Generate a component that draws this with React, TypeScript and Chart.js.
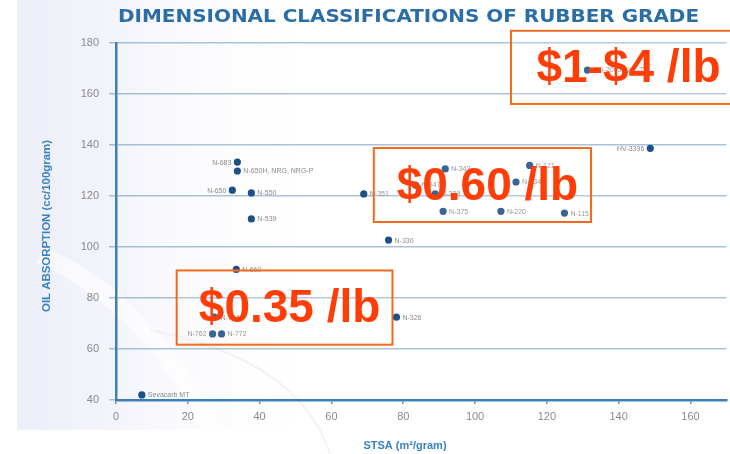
import React, { useEffect, useRef } from "react";
import { Chart, registerables } from "chart.js";

Chart.register(...registerables);

// ---- data ----
const gradeNames = [
  "Sevacarb MT", "N-683", "N-650H, NRG, NRG-P", "N-650", "N-550", "N-539", "N-660",
  "N-774", "N-762", "N-772", "N-351", "N-330", "N-326", "N-347", "N-339", "N-343",
  "N-375", "N-220", "N-234", "N-121", "N-115", "HV-3396", "CD-2005 / XC-72",
];
const stsaValues = [
  7.2, 33.8, 33.8, 32.4, 37.7, 37.7, 33.5,
  27.4, 26.9, 29.4, 69.0, 75.9, 78.1, 83.4, 88.9, 91.7,
  91.1, 107.2, 111.4, 115.2, 124.9, 148.8, 131.3,
];
const oanValues = [
  42, 133.3, 129.8, 122.3, 121.2, 111, 91.2,
  72.5, 65.9, 65.9, 120.8, 102.7, 72.5, 124.3, 120.8, 130.6,
  114, 114, 125.5, 132, 113.3, 138.7, 169.4,
];
const labelSides = [
  "right", "left", "right", "left", "right", "right", "right",
  "right", "left", "right", "right", "right", "right", "right", "right", "right",
  "right", "right", "right", "right", "right", "left", "right",
];
const xTickValues = [0, 20, 40, 60, 80, 100, 120, 140, 160];
const yTickValues = [40, 60, 80, 100, 120, 140, 160, 180];

// price regions (data units: STSA from/to, OAN top/bottom)
const priceLabels = ["$1-$4 /lb", "$0.60 /lb", "$0.35 /lb"];
const priceStsaFrom = [110, 71.8, 16.9];
const priceStsaTo = [172, 132.3, 77];
const priceOanTop = [184.8, 138.8, 90.8];
const priceOanBottom = [156.1, 109.8, 61.7];

const titleText = "DIMENSIONAL CLASSIFICATIONS OF RUBBER GRADE";
const xTitle = "STSA (m²/gram)";
const yTitle = "OIL ABSORPTION (cc/100gram)";

const BLUE = "#2b6ea6";

const decorPlugin = {
  id: "decor",
  beforeDraw(chart: any) {
    const { ctx, width, height } = chart;
    ctx.save();
    ctx.fillStyle = "#ffffff";
    ctx.fillRect(0, 0, width, height);
    const g = ctx.createLinearGradient(17, 0, 330, 0);
    g.addColorStop(0, "rgba(236,238,248,1)");
    g.addColorStop(0.35, "rgba(243,244,251,0.85)");
    g.addColorStop(1, "rgba(255,255,255,0)");
    ctx.fillStyle = g;
    ctx.fillRect(17, 0, 313, 430);
    // faint swoosh
    ctx.strokeStyle = "rgba(255,255,255,0.6)";
    ctx.lineWidth = 18;
    ctx.beginPath();
    ctx.moveTo(40, 255);
    ctx.quadraticCurveTo(150, 300, 225, 454);
    ctx.stroke();
    ctx.strokeStyle = "rgba(228,228,238,0.45)";
    ctx.lineWidth = 2;
    ctx.beginPath();
    ctx.moveTo(150, 330);
    ctx.quadraticCurveTo(300, 360, 330, 454);
    ctx.stroke();
    ctx.restore();
  },
  afterDatasetsDraw(chart: any) {
    const { ctx } = chart;
    const meta = chart.getDatasetMeta(0);
    ctx.save();
    ctx.font = "7px 'Liberation Sans', Arial, sans-serif";
    ctx.fillStyle = "#8a8a8a";
    ctx.textBaseline = "middle";
    meta.data.forEach((pt: any, i: number) => {
      const side = labelSides[i];
      ctx.textAlign = side === "left" ? "right" : "left";
      const dx = side === "left" ? -6 : 6;
      ctx.fillText(gradeNames[i], pt.x + dx, pt.y + 0.5);
    });
    ctx.restore();
  },
  afterDraw(chart: any) {
    const { ctx, scales } = chart;
    const xs = scales.x;
    const ys = scales.y;
    ctx.save();
    // price boxes
    priceLabels.forEach((lab, i) => {
      const x0 = xs.getPixelForValue(priceStsaFrom[i]);
      const x1 = xs.getPixelForValue(priceStsaTo[i]);
      const y0 = ys.getPixelForValue(priceOanTop[i]);
      const y1 = ys.getPixelForValue(priceOanBottom[i]);
      ctx.fillStyle = "rgba(255,255,255,0.12)";
      ctx.fillRect(x0, y0, x1 - x0, y1 - y0);
      ctx.strokeStyle = "#f26a1e";
      ctx.lineWidth = 2;
      ctx.strokeRect(x0, y0, x1 - x0, y1 - y0);
      ctx.fillStyle = "#ff3d06";
      ctx.font = "bold 46px 'Liberation Sans', Arial, sans-serif";
      ctx.textAlign = "center";
      ctx.textBaseline = "middle";
      const cx = i === 0 ? (x0 + 730) / 2 + 8 : (x0 + x1) / 2 + 5;
      ctx.fillText(lab, cx, (y0 + y1) / 2 + 2);
    });
    // title
    ctx.fillStyle = BLUE;
    ctx.font = "bold 18px 'DejaVu Sans', sans-serif";
    ctx.textAlign = "left";
    ctx.textBaseline = "middle";
    const tw = ctx.measureText(titleText).width;
    ctx.save();
    ctx.translate(118, 17);
    ctx.scale(581 / tw, 1);
    ctx.fillText(titleText, 0, 0);
    ctx.restore();
    // x title
    ctx.fillStyle = "#3a82c0";
    ctx.font = "bold 11px 'Liberation Sans', Arial, sans-serif";
    ctx.textAlign = "center";
    ctx.fillText(xTitle, 405, 446);
    // y title
    ctx.save();
    ctx.translate(47, 226);
    ctx.rotate(-Math.PI / 2);
    ctx.font = "bold 11px 'Liberation Sans Narrow', 'Liberation Sans', Arial, sans-serif";
    const yw = ctx.measureText(yTitle).width;
    ctx.scale(172 / yw, 1);
    ctx.fillText(yTitle, 0, 0);
    ctx.restore();
    ctx.restore();
  },
};

export default function App() {
  const canvasRef = useRef<HTMLCanvasElement | null>(null);

  useEffect(() => {
    if (!canvasRef.current) return;
    const points = stsaValues.map((x, i) => ({ x, y: oanValues[i] }));
    const chart = new Chart(canvasRef.current, {
      type: "scatter",
      data: {
        datasets: [
          {
            data: points,
            backgroundColor: "#1d4f88",
            borderColor: "#1d4f88",
            pointRadius: 3.6,
            pointHoverRadius: 3.6,
            borderWidth: 0,
          },
        ],
      },
      options: {
        animation: false,
        responsive: false,
        maintainAspectRatio: false,
        layout: { padding: { top: 43, right: 0, bottom: 0, left: 0 } },
        plugins: {
          legend: { display: false },
          title: { display: false },
          tooltip: { enabled: false },
        },
        scales: {
          x: {
            type: "linear",
            min: 0,
            max: 170,
            afterFit: (s: any) => {
              s.height = 54;
            },
            afterBuildTicks: (s: any) => {
              s.ticks = xTickValues.map((v) => ({ value: v }));
            },
            ticks: {
              color: "#8a8a8a",
              font: { size: 11, family: "'Liberation Sans', Arial, sans-serif" },
              padding: 6,
              maxRotation: 0,
            },
            grid: {
              drawOnChartArea: false,
              drawTicks: true,
              tickLength: 4,
              color: "#5d8fc0",
              lineWidth: 1.5,
            },
            border: { display: true, color: "#3f7fb8", width: 2.5 },
          },
          y: {
            type: "linear",
            min: 40,
            max: 180,
            afterFit: (s: any) => {
              s.width = 116;
            },
            afterBuildTicks: (s: any) => {
              s.ticks = yTickValues.map((v) => ({ value: v }));
            },
            ticks: {
              color: "#8a8a8a",
              font: { size: 11, family: "'Liberation Sans', Arial, sans-serif" },
              padding: 10,
            },
            grid: {
              color: "rgba(100,145,190,0.55)",
              lineWidth: 1.5,
              tickLength: 7,
              drawTicks: true,
            },
            border: { display: true, color: "#3f7fb8", width: 2.5 },
          },
        },
      },
      plugins: [decorPlugin],
    });
    return () => chart.destroy();
  }, []);

  return (
    <div style={{ position: "fixed", left: 0, top: 0, width: 730, height: 454 }}>
      <canvas ref={canvasRef} width={730} height={454} style={{ width: 730, height: 454, display: "block" }} />
    </div>
  );
}
